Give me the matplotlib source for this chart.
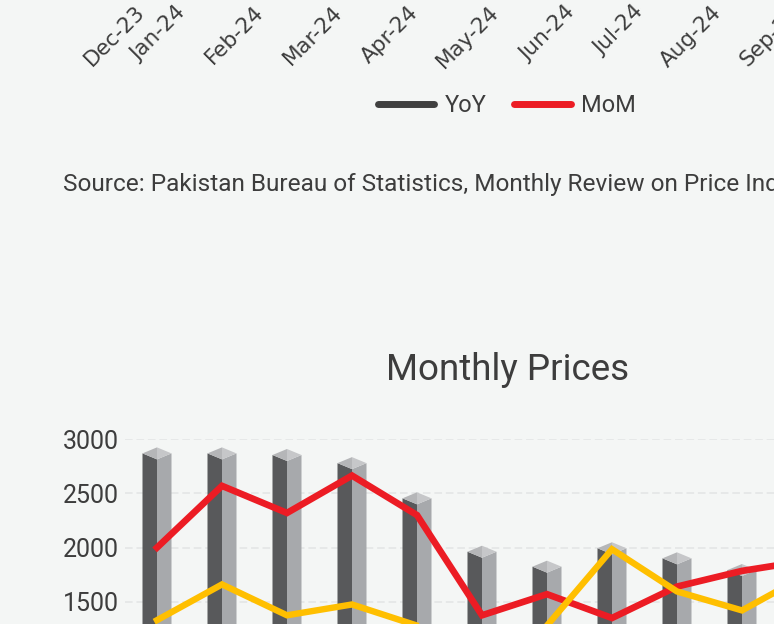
import numpy as np
import matplotlib
matplotlib.use('Agg')
import matplotlib.pyplot as plt
from matplotlib.patches import Polygon
from matplotlib.lines import Line2D

# upper chart (only its date axis and legend are in view)
top_labels = ['Dec-23', 'Jan-24', 'Feb-24', 'Mar-24', 'Apr-24', 'May-24',
              'Jun-24', 'Jul-24', 'Aug-24', 'Sep-24']
top_dates = ['2023-12-16', '2024-01-01', '2024-02-01', '2024-03-03', '2024-04-02',
             '2024-05-04', '2024-06-03', '2024-06-30', '2024-07-31', '2024-08-31']
top_series = ['YoY', 'MoM']

# lower chart: Monthly Prices
bar_values = [2870, 2870, 2855, 2780, 2455, 1962, 1824, 1994, 1901, 1793, 1800]
red_values = [2000, 2570, 2320, 2665, 2300, 1375, 1570, 1350, 1640, 1785, 1880]
yellow_values = [1330, 1660, 1375, 1475, 1280, 1000, 1280, 1985, 1595, 1420, 1750]
y_ticks = [1500, 2000, 2500, 3000]

BG = '#f4f6f5'
TXT = '#3d3d3d'
plt.rcParams['font.family'] = ['Roboto', 'DejaVu Sans']

fig = plt.figure(figsize=(7.74, 6.24), dpi=100, facecolor=BG)

# --- top axis: sits above the canvas, only tick labels show
days = (np.array(top_dates, dtype='datetime64[D]')
        - np.datetime64('2024-01-01')).astype(float)
axt = fig.add_axes([0, 1.0, 900 / 774, 0.3])
axt.set_xlim(-189 / 2.53, (900 - 189) / 2.53)
axt.set_xticks(days)
axt.set_xticklabels(top_labels, rotation=45, ha='right', family='DejaVu Sans',
                    fontsize=15.5, color=TXT)
axt.tick_params(axis='x', length=0, pad=1.5)
axt.set_yticks([])
for s in axt.spines.values():
    s.set_visible(False)
axt.patch.set_visible(False)

handles = [Line2D([], [], color='#404040', lw=5, solid_capstyle='round'),
           Line2D([], [], color='#ec1c24', lw=5, solid_capstyle='round')]
fig.legend(handles, top_series, loc='center', bbox_to_anchor=(507 / 774, 1 - 106 / 624),
           ncol=2, frameon=False, fontsize=17, handlelength=2.4, handletextpad=0.45,
           columnspacing=1.15, labelcolor=TXT)

fig.text(63 / 774, 1 - 184 / 624,
         'Source: Pakistan Bureau of Statistics, Monthly Review on Price Indices',
         fontsize=17.6, color=TXT, va='center', ha='left')

# --- bottom chart
ax = fig.add_axes([124.5 / 774, -0.2247, 715 / 774, 0.5207])
ax.set_facecolor(BG)
ax.set_xlim(-0.5, 10.5)
ax.set_ylim(0, 3000)

hw = 14.5 / 65          # half width of a pillar in x units
dy = 6 * 3000 / 324.9   # vertical offset of the top diamond in value units
for i, v in enumerate(bar_values):
    ax.add_patch(Polygon([(i - hw, 0), (i - hw, v), (i, v - dy), (i, 0)],
                         closed=True, fc='#58595b', ec='none', zorder=2))
    ax.add_patch(Polygon([(i, 0), (i, v - dy), (i + hw, v), (i + hw, 0)],
                         closed=True, fc='#a7a9ac', ec='none', zorder=2))
    ax.add_patch(Polygon([(i - hw, v), (i, v + dy), (i, v - dy)],
                         closed=True, fc='#b5b6b8', ec='none', zorder=2))
    ax.add_patch(Polygon([(i, v + dy), (i + hw, v), (i, v - dy)],
                         closed=True, fc='#c6c7c9', ec='none', zorder=2))

x = np.arange(len(red_values))
ax.plot(x, red_values, color='#ec1c24', lw=4.8, solid_joinstyle='miter', zorder=3)
ax.plot(x, yellow_values, color='#ffbf00', lw=4.6, solid_joinstyle='miter', zorder=4)

ax.set_yticks(y_ticks)
ax.set_yticklabels([str(t) for t in y_ticks], fontsize=18, color=TXT)
ax.set_xticks([])
ax.tick_params(axis='y', length=0, pad=4)
ax.grid(axis='y', color='#e3e5e5', lw=1.1, linestyle=(0, (5, 2.5)), zorder=1)
ax.set_axisbelow(True)
for s in ax.spines.values():
    s.set_visible(False)
ax.set_title('Monthly Prices', fontsize=26.5, color=TXT, x=0.536, pad=43)

fig.savefig('out.png', dpi=100, facecolor=BG)
